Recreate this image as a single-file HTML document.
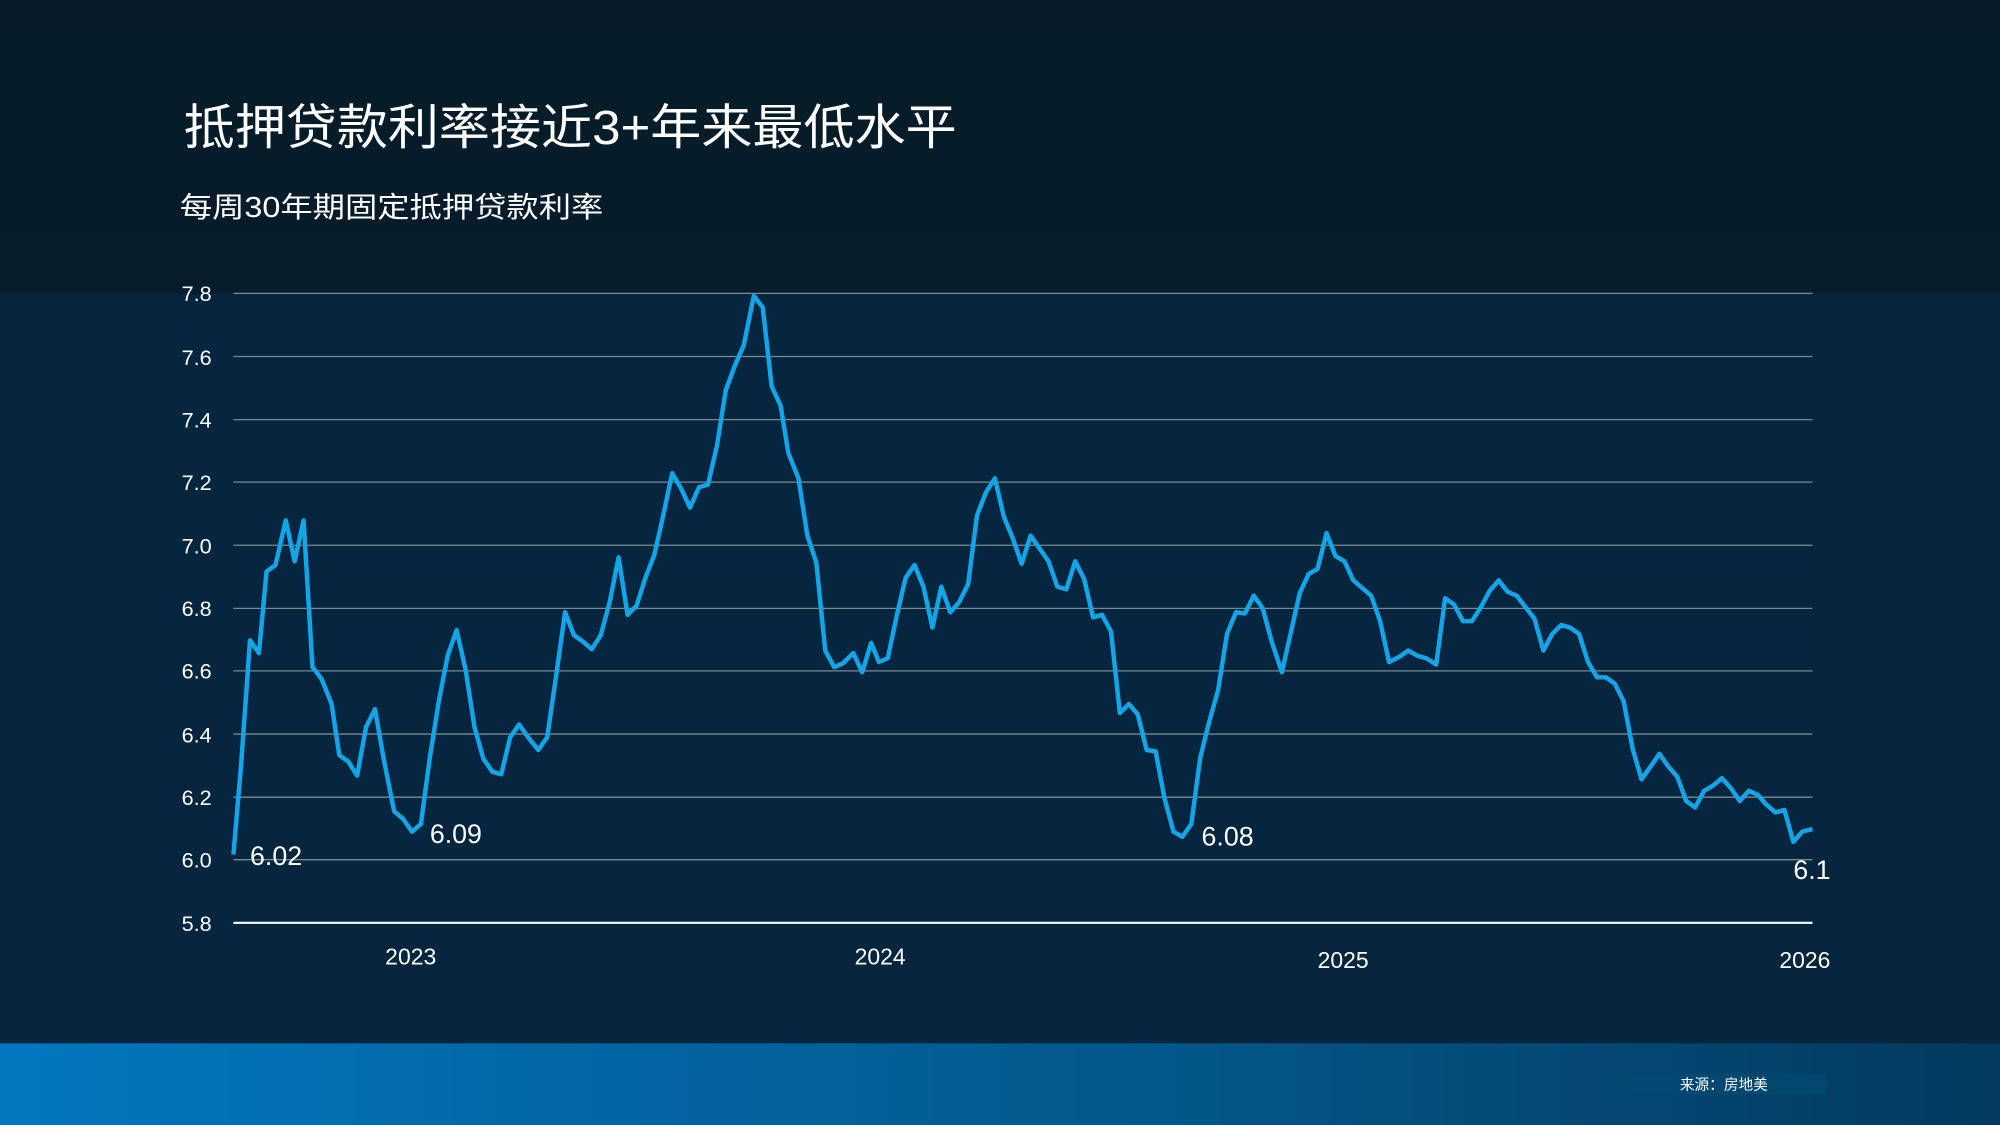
<!DOCTYPE html>
<html><head><meta charset="utf-8"><style>
html,body{margin:0;padding:0;background:#06233a;}
svg{display:block;}
text{font-family:"Liberation Sans","Noto Sans CJK SC",sans-serif;fill:#fff;}
</style></head><body>
<svg width="2000" height="1125" viewBox="0 0 1568 882" xmlns="http://www.w3.org/2000/svg">
<defs>
<linearGradient id="bg" x1="0" y1="0" x2="0" y2="1">
<stop offset="0" stop-color="#061b27"/><stop offset="1" stop-color="#061d2c"/></linearGradient>
<linearGradient id="ft" x1="0" y1="0" x2="1" y2="0">
<stop offset="0" stop-color="#0277bf"/><stop offset="0.6" stop-color="#035688"/><stop offset="1" stop-color="#033a5e"/></linearGradient>
</defs>
<rect x="0" y="0" width="1568" height="230" fill="url(#bg)"/>
<rect x="0" y="230" width="1568" height="588" fill="#05263e"/>
<rect x="0" y="818" width="1568" height="64" fill="url(#ft)"/>
<rect x="1250" y="842" width="182" height="16" fill="#034a74" opacity="0.7"/>
<text x="1317" y="854" font-size="11.5">来源：房地美</text>
<text x="144" y="113" font-size="38" textLength="606" lengthAdjust="spacingAndGlyphs">抵押贷款利率接近3+年来最低水平</text>
<text x="141" y="170" font-size="22.5" textLength="332" lengthAdjust="spacingAndGlyphs">每周30年期固定抵押贷款利率</text>
<g stroke="#7d8890" stroke-width="1">
<line x1="183" y1="230" x2="1421" y2="230"/><line x1="183" y1="279.5" x2="1421" y2="279.5"/>
<line x1="183" y1="329" x2="1421" y2="329"/><line x1="183" y1="378" x2="1421" y2="378"/>
<line x1="183" y1="427.5" x2="1421" y2="427.5"/><line x1="183" y1="477" x2="1421" y2="477"/>
<line x1="183" y1="526" x2="1421" y2="526"/><line x1="183" y1="575.5" x2="1421" y2="575.5"/>
<line x1="183" y1="625" x2="1421" y2="625"/><line x1="183" y1="674" x2="1421" y2="674"/>
</g>
<line x1="183" y1="723.5" x2="1421" y2="723.5" stroke="#fff" stroke-width="1.6"/>
<g font-size="17" text-anchor="end">
<text x="166" y="236">7.8</text><text x="166" y="286">7.6</text><text x="166" y="335">7.4</text>
<text x="166" y="384">7.2</text><text x="166" y="434">7.0</text><text x="166" y="483">6.8</text>
<text x="166" y="532">6.6</text><text x="166" y="582">6.4</text><text x="166" y="631">6.2</text>
<text x="166" y="680">6.0</text><text x="166" y="730">5.8</text>
</g>
<g font-size="18" text-anchor="middle">
<text x="322" y="756">2023</text><text x="690" y="756">2024</text>
<text x="1053" y="759">2025</text><text x="1415" y="759">2026</text>
</g>
<polyline fill="none" stroke="#12a6e8" stroke-width="3.5" stroke-linejoin="round" points="183,670 189,600 196,502 203,512 209,448 216,443 224,408 231,440 238,408 245,523 252,532 260,552 266,592 273,597 280,608 287,570 294,556 301,596 309,636 316,642 323,652 330,646 337,594 344,550 351,514 358,494 365,525 372,570 379,595 386,605 393,607 400,578 407,568 414,578 422,588 429,578 436,530 443,480 450,498 457,503 464,509 471,498 478,472 485,437 492,482 499,475 506,453 513,435 520,404 527,371 534,383 541,398 548,382 555,380 562,350 569,306 576,287 583,271 591,232 598,241 605,303 612,318 618,355 626,375 633,420 640,441 647,510 654,523 661,520 669,512 676,527 683,504 689,519 696,516 703,483 710,453 717,443 724,460 731,492 738,460 745,480 752,472 759,458 766,404 773,386 780,375 787,405 794,422 801,442 808,420 815,430 822,440 829,460 836,462 843,440 850,454 857,484 864,482 871,495 878,559 885,552 892,560 899,588 906,589 913,626 920,652 927,656 934,646 941,594 948,566 955,541 962,497 969,480 976,481 983,467 990,477 997,503 1005,527 1012,496 1019,465 1026,450 1033,446 1040,418 1047,436 1054,440 1061,455 1068,461 1075,467 1082,487 1089,519 1097,515 1104,510 1111,514 1118,516 1126,521 1133,469 1140,474 1147,487 1154,487 1161,476 1168,463 1175,455 1182,464 1189,467 1196,476 1203,485 1210,510 1217,497 1224,490 1231,492 1238,497 1245,519 1252,531 1259,531 1266,536 1273,550 1280,587 1287,611 1294,601 1301,591 1308,601 1315,609 1322,628 1329,633 1336,620 1343,616 1350,610 1357,618 1364,628 1371,620 1378,623 1385,631 1392,637 1399,635 1406,660 1413,652 1421,650"/>
<g font-size="21">
<text x="196" y="678">6.02</text><text x="337" y="661">6.09</text>
<text x="942" y="663">6.08</text><text x="1406" y="689">6.1</text>
</g>
</svg>
</body></html>
